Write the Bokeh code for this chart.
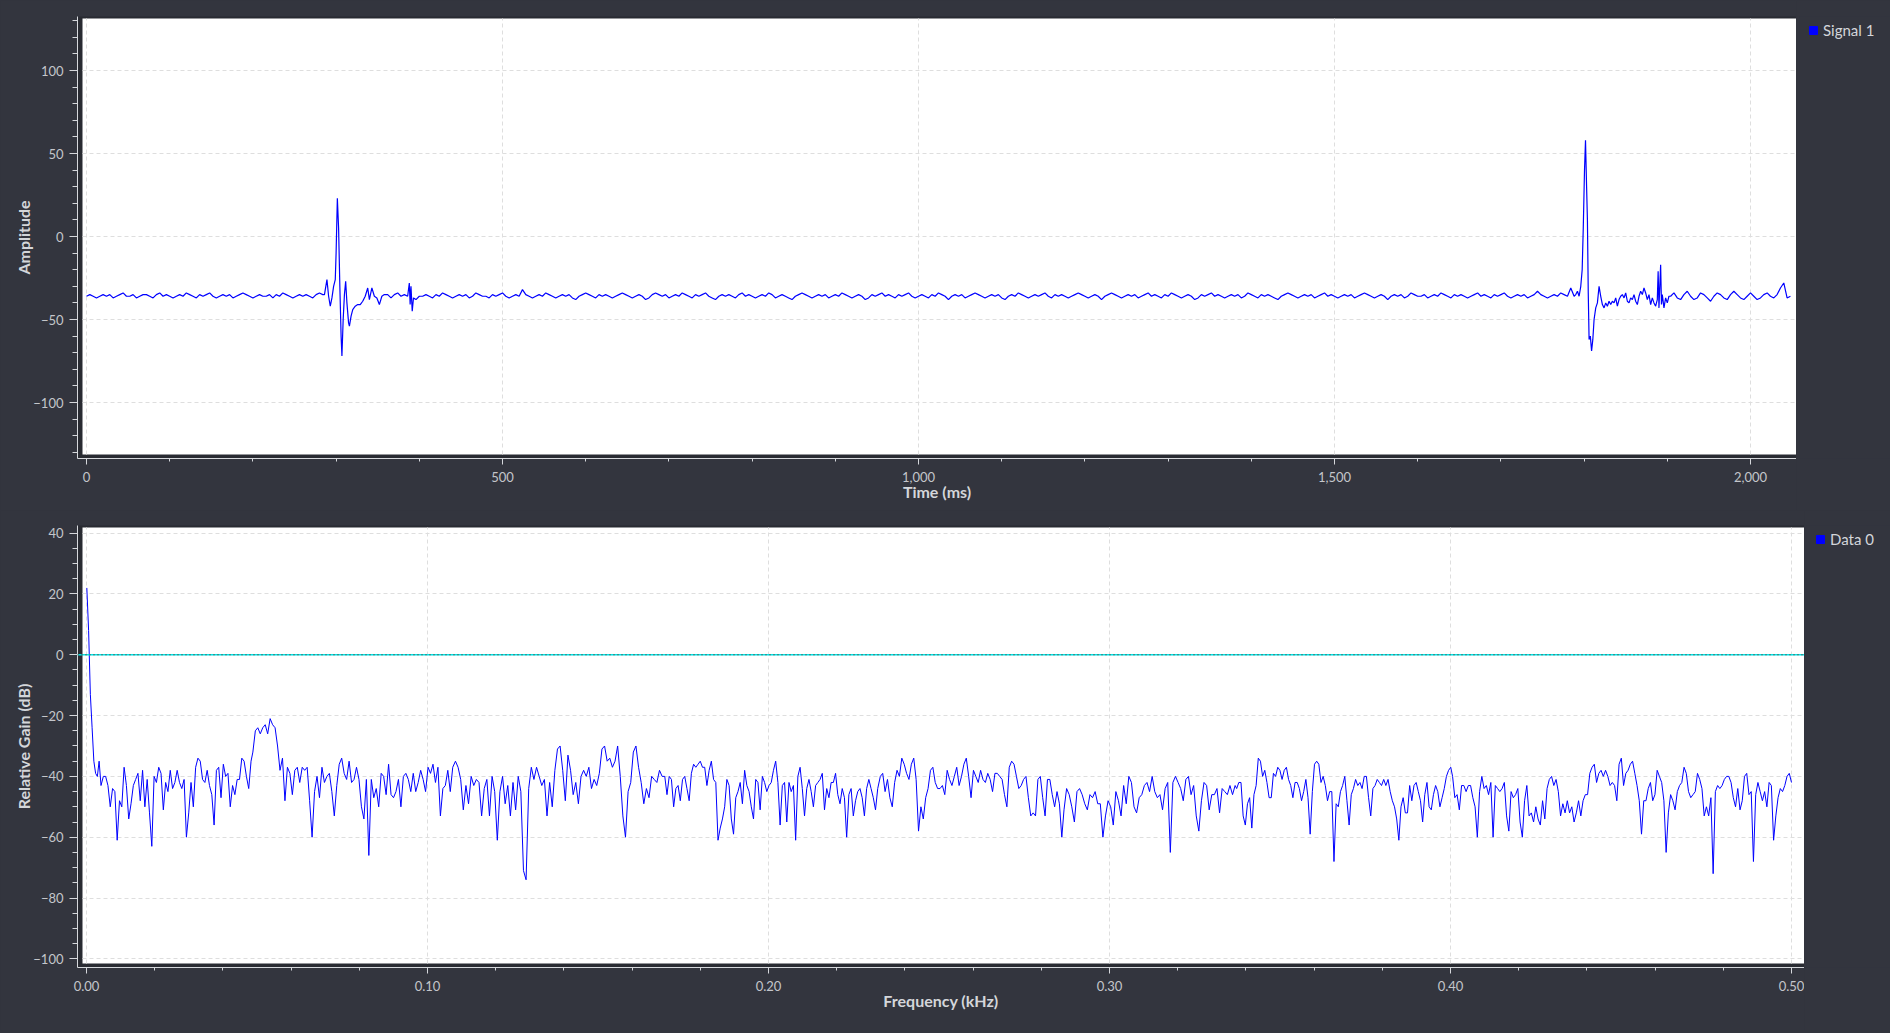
import numpy as np
from bokeh.plotting import figure
from bokeh.models import (Range1d, SingleIntervalTicker, NumeralTickFormatter, BoxAnnotation,
                          Span, Legend, LegendItem, GlobalInlineStyleSheet, Grid)
from bokeh.layouts import column, row
from bokeh.embed import file_html
from bokeh.resources import INLINE

# ---------------- Signal 1 (time domain) ----------------
seg_a_span = (0, 284)
seg_a = [-36,-35,-36,-37,-36,-35,-36,-35,-37,-36,-35,-34,-36,-36,-35,-37,-36,-35,-35,-36,
         -37,-35,-34,-36,-35,-36,-37,-36,-35,-36,-34,-35,-36,-37,-35,-36,-35,-34,-36,-37,
         -36,-35,-36,-35,-37,-36,-35,-34,-35,-36,-37,-36,-35,-36,-36,-35,-37,-35,-36,-34,
         -35,-36,-37,-36,-35,-36,-35,-36,-37,-35,-34,-35]

spike1_t = [286,289,291,293,295,297,299,300,301.5,303,304.5,306,307,308.5,310,311.5,313,315,316,318,
            320,323,326,329,332,335,338,340,343,346,349,352,355,358,362,366,370,374,378,382,
            386,388,389,390,391.5,393,396,400]
spike1_v = [-35,-26,-36,-42,-37,-30,-26,-10,23,5,-30,-60,-72,-50,-35,-27,-40,-52,-54,-48,
            -44,-42,-41,-41,-39,-36,-31,-38,-31,-36,-37,-41,-36,-35,-35,-37,-35,-34,-36,-35,
            -36,-28,-41,-30,-45,-37,-38,-36]

seg_c_span = (404, 1788)
seg_c = [-36,-35,-36,-37,-35,-36,-34,-35,-36,-37,-36,-35,-36,-35,-37,-36,-34,-35,-36,-36,
         -37,-35,-36,-35,-34,-36,-37,-36,-35,-36,-32,-35,-36,-37,-36,-35,-36,-34,-35,-36,
         -37,-36,-35,-36,-35,-37,-38,-36,-35,-34,-35,-36,-37,-35,-36,-35,-36,-37,-36,-35,
         -34,-35,-36,-37,-36,-35,-36,-38,-37,-35,-34,-35,-36,-35,-37,-36,-35,-36,-34,-35,
         -36,-37,-35,-36,-35,-34,-36,-37,-38,-36,-35,-36,-35,-36,-37,-35,-34,-36,-35,-36,
         -37,-36,-35,-36,-34,-35,-37,-36,-35,-36,-37,-38,-36,-35,-34,-35,-36,-37,-36,-35,
         -36,-35,-37,-36,-35,-36,-34,-35,-36,-37,-36,-35,-36,-38,-37,-35,-36,-35,-34,-36,
         -35,-36,-37,-35,-36,-35,-34,-36,-37,-36,-35,-36,-37,-35,-36,-34,-35,-36,-38,-36,
         -35,-36,-35,-37,-36,-35,-34,-35,-36,-37,-36,-35,-36,-35,-37,-38,-36,-35,-36,-34,
         -35,-36,-37,-36,-35,-36,-35,-34,-36,-37,-35,-36,-35,-36,-37,-36,-35,-34,-35,-36,
         -37,-36,-35,-36,-38,-36,-35,-34,-35,-36,-37,-36,-35,-36,-35,-37,-36,-35,-34,-36,
         -35,-36,-37,-35,-36,-34,-35,-36,-37,-36,-35,-36,-38,-37,-35,-36,-35,-34,-36,-35,
         -36,-37,-36,-35,-36,-35,-37,-36,-34,-35,-36,-37,-35,-36,-35,-36,-37,-38,-36,-35,
         -34,-35,-36,-37,-36,-35,-36,-35,-37,-36,-35,-34,-36,-35,-36,-37,-36,-35,-36,-35,
         -37,-36,-35,-34,-35,-36,-37,-36,-35,-36,-38,-36,-35,-36,-35,-37,-36,-34,-35,-36,
         -36,-35,-37,-36,-35,-36,-34,-35,-36,-37,-35,-36,-35,-36,-37,-36,-35,-34,-36,-35,
         -36,-37,-35,-36,-35,-34,-36,-37,-36,-35,-36,-35,-37,-36,-35,-33,-35,-36,-37,-36,
         -35,-36,-34,-35,-36,-31,-36]

spike2_t = [1790,1792,1794,1796,1797.7,1799,1800.5,1801.7,1803,1804,1805,1806,1807.5,1809,1810.5,1812,1814,1816,1818,1820,
            1822,1824,1826,1828,1830,1832,1834,1836,1838,1840,1842,1844,1846,1848,1850,1852,1854,1856,1858,1860,
            1862,1864,1866,1868,1870,1872,1874,1876,1878,1880,1882,1884,1886,1888,1889,1890,1891,1892,1893,1894,
            1896,1898,1900,1902]
spike2_v = [-35,-33,-36,-30,-20,5,40,58,30,10,-34,-62,-60,-69,-62,-50,-43,-40,-30,-36,
            -41,-43,-40,-42,-39,-41,-39,-40,-37,-42,-38,-36,-35,-37,-34,-39,-40,-37,-38,-35,
            -39,-41,-36,-33,-35,-31,-34,-38,-35,-41,-37,-40,-42,-38,-21,-43,-30,-17,-41,-35,
            -43,-37,-40,-36]

seg_e_span = (1904, 2048)
seg_e = [-36,-34,-37,-38,-35,-33,-36,-38,-37,-34,-35,-37,-39,-36,-34,-35,-37,-38,-35,-33,
         -35,-37,-38,-36,-34,-36,-38,-37,-35,-34,-36,-37,-35,-31,-28,-37,-36]

# ---------------- Data 0 (spectrum, dB) ----------------
gain_chunks = [
    ((0.0001, 0.0037), [22, 8, -13, -24, -35, -39, -40, -35]),
    ((0.00426, 0.04825), [-43,-40,-40,-43,-50,-44,-45,-61,-48,-50,-37,-43,-54,-49,-43,-41,-39,-48,-38,-50,
                          -41,-52,-63,-40,-42,-37,-39,-51,-42,-45,-38,-44,-42,-38,-42,-44,-41,-60,-52,-42,
                          -50,-37,-34,-35,-41,-42,-38,-43,-46,-56,-38,-37,-47,-36,-40,-39,-50,-43,-46,-41,
                          -41,-34,-35,-40,-44,-35]),
    ((0.04879, 0.1074), [-32,-25,-24,-26,-24,-23,-26,-21,-23,-24,-30,-38,-34,-48,-37,-39,-46,-38,-37,-42,
                         -37,-38,-37,-48,-60,-45,-40,-47,-37,-42,-40,-39,-45,-53,-43,-36,-34,-39,-41,-35,
                         -42,-41,-37,-41,-50,-54,-41,-66,-41,-47,-44,-50,-39,-40,-46,-36,-46,-47,-45,-41,
                         -50,-40,-39,-41,-45,-39,-45,-42,-38,-41,-45,-37,-39,-36,-42,-37,-53,-44,-43,-38,
                         -45,-37]),
    ((0.1082, 0.1688), [-35,-37,-41,-51,-43,-49,-40,-43,-41,-42,-53,-44,-41,-53,-40,-45,-61,-45,-40,-49,
                        -43,-53,-42,-51,-40,-45,-71,-74,-44,-37,-41,-37,-40,-43,-41,-53,-42,-50,-38,-31,
                        -30,-38,-48,-33,-38,-46,-42,-49,-40,-38,-40,-37,-44,-41,-43,-39,-31,-30,-35,-34,
                        -37,-35,-30,-40,-53,-60,-45,-42,-32,-30,-37,-42,-49,-44,-47,-40,-41,-42,-38,-40]),
    ((0.16958, 0.23203), [-40,-46,-40,-41,-50,-44,-43,-48,-41,-40,-44,-48,-39,-36,-37,-36,-35,-37,-37,-43,
                          -38,-35,-41,-42,-61,-57,-54,-50,-41,-43,-54,-59,-47,-45,-42,-49,-38,-43,-45,-50,
                          -54,-41,-42,-51,-40,-42,-45,-43,-42,-38,-35,-42,-56,-43,-42,-55,-42,-45,-43,-61,
                          -40,-37,-44,-53,-44,-41,-45,-50,-43,-42,-41,-39,-51,-44,-47,-42,-42,-39,-46,-49,
                          -44,-47,-60,-46,-44,-53,-48,-45,-44,-47,-53,-44,-41,-44,-47,-51,-44]),
    ((0.23279, 0.28601), [-40,-39,-45,-41,-47,-50,-42,-38,-40,-34,-36,-39,-41,-36,-34,-41,-58,-50,-54,-47,
                          -44,-38,-37,-42,-44,-44,-43,-46,-38,-41,-43,-40,-37,-43,-40,-36,-34,-40,-47,-38,
                          -40,-42,-38,-41,-42,-39,-41,-45,-39,-39,-40,-41,-46,-50,-37,-35,-36,-40,-44,-43,
                          -41,-40,-47,-53,-52,-53,-41,-40,-47,-53,-41,-41,-46,-50,-45,-49,-60]),
    ((0.28666, 0.33684), [-51,-44,-46,-50,-55,-45,-44,-46,-49,-51,-46,-47,-45,-49,-49,-60,-53,-48,-50,-56,
                          -45,-48,-53,-43,-49,-40,-42,-50,-52,-47,-46,-43,-42,-45,-40,-45,-47,-46,-51,-44,
                          -42,-65,-42,-40,-42,-44,-48,-41,-40,-46,-43,-53,-58,-48,-42,-43,-51,-46,-46,-44,
                          -52,-44,-45,-46,-43,-46,-43]),
    ((0.33729, 0.40007), [-44,-42,-42,-53,-56,-49,-47,-57,-46,-43,-34,-35,-40,-38,-42,-47,-47,-39,-40,-37,
                          -38,-41,-38,-37,-41,-43,-47,-42,-42,-44,-48,-45,-41,-47,-59,-45,-36,-35,-36,-42,
                          -40,-43,-48,-45,-45,-68,-49,-50,-45,-43,-40,-48,-56,-46,-44,-41,-43,-42,-44,-40,
                          -40,-47,-53,-44,-43,-41,-42,-43,-41,-43,-41,-45,-48,-50,-54,-61,-50,-47,-52,-52,
                          -43,-48,-43,-42,-45,-48,-55,-46,-42,-50,-51,-46,-43,-45,-50,-47,-44,-40,-38,-37]),
    ((0.40061, 0.45405), [-40,-47,-46,-51,-43,-43,-45,-43,-43,-47,-50,-60,-45,-40,-44,-43,-46,-42,-60,-43,
                          -44,-45,-44,-42,-53,-58,-45,-47,-46,-44,-55,-60,-48,-43,-53,-52,-55,-50,-54,-56,
                          -48,-54,-44,-41,-40,-43,-41,-45,-53,-49,-52,-48,-52,-50,-55,-52,-48,-53,-48,-46,
                          -46,-39,-37,-36,-42,-39,-38,-40,-38,-40,-43,-42,-43,-48,-36,-34,-43,-39,-38,-36,
                          -35,-39]),
    ((0.4547, 0.5000), [-43,-48,-59,-48,-48,-44,-42,-48,-46,-38,-40,-42,-48,-65,-52,-46,-48,-51,-45,-43,
                        -42,-37,-39,-45,-47,-46,-45,-39,-41,-44,-53,-50,-53,-47,-72,-45,-43,-44,-43,-41,
                        -40,-40,-42,-47,-50,-44,-51,-48,-40,-39,-46,-45,-68,-46,-42,-45,-48,-45,-50,-42,
                        -43,-61,-53,-47,-44,-45,-43,-40,-39,-42]),
]

# ---------------- build series ----------------
sig_t = (list(np.linspace(seg_a_span[0], seg_a_span[1], len(seg_a))) + spike1_t +
         list(np.linspace(seg_c_span[0], seg_c_span[1], len(seg_c))) + spike2_t +
         list(np.linspace(seg_e_span[0], seg_e_span[1], len(seg_e))))
sig_v = seg_a + spike1_v + seg_c + spike2_v + seg_e

freq = []
gain = []
for (f0, f1), g in gain_chunks:
    freq += list(np.linspace(f0, f1, len(g)))
    gain += g

# ---------------- style ----------------
BG = "#33353e"
STRIP = "#292b32"
AXC = "#d6d8dc"
TXT = "#c4c6cb"
LBL = "#d4d6da"
GRID = "#dedede"
FONT = "Lato"
TOTAL_W = 1890


def make_fig(width, height, top_border, bottom_border, xr, yr, white, xtick, ytick,
             xfmt, xlabel, ylabel, y_minor):
    p = figure(width=width, height=height, output_backend="svg", toolbar_location=None,
               x_range=Range1d(*xr), y_range=Range1d(*yr),
               min_border_left=77, min_border_right=0,
               min_border_top=top_border, min_border_bottom=bottom_border)
    p.background_fill_color = STRIP
    p.border_fill_color = BG
    p.outline_line_color = None

    wl, wr, wb, wt = white
    p.add_layout(BoxAnnotation(left=wl, right=wr, bottom=wb, top=wt, fill_color="white",
                               fill_alpha=1.0, line_alpha=0, level="image"))

    xt = SingleIntervalTicker(interval=xtick, num_minor_ticks=5)
    yt = SingleIntervalTicker(interval=ytick, num_minor_ticks=y_minor)
    p.xaxis.ticker = xt
    p.yaxis.ticker = yt
    p.xgrid.ticker = xt
    p.ygrid.ticker = yt
    p.xaxis.formatter = NumeralTickFormatter(format=xfmt)

    for g in (p.xgrid[0], p.ygrid[0]):
        g.grid_line_color = GRID
        g.grid_line_dash = "4 3"
        g.grid_line_width = 1
    if "cross_bounds" in Grid.properties():
        p.xgrid[0].cross_bounds = (wb, wt)
        p.ygrid[0].cross_bounds = (wl, wr)

    for ax in (p.xaxis[0], p.yaxis[0]):
        ax.axis_line_color = AXC
        ax.major_tick_line_color = AXC
        ax.minor_tick_line_color = AXC
        ax.major_tick_in = 0
        ax.minor_tick_in = 0
        ax.major_label_text_color = TXT
        ax.major_label_text_font = FONT
        ax.major_label_text_font_size = "13px"
        ax.axis_label_text_font = FONT
        ax.axis_label_text_font_style = "bold"
        ax.axis_label_text_font_size = "16px"
        ax.axis_label_text_color = LBL
    p.xaxis.major_tick_out = 6
    p.xaxis.minor_tick_out = 3
    p.yaxis.major_tick_out = 8
    p.yaxis.minor_tick_out = 5
    p.xaxis.major_label_standoff = 7
    p.yaxis.major_label_standoff = 6
    p.xaxis.axis_label_standoff = -3
    p.yaxis.axis_label_standoff = -3
    p.xaxis.axis_label = xlabel
    p.yaxis.axis_label = ylabel
    return p


def make_legend_fig(width, height, top_border, left_border, margin, label):
    lf = figure(width=width, height=height, output_backend="svg", toolbar_location=None,
                x_range=Range1d(0, 1), y_range=Range1d(0, 1),
                x_axis_location=None, y_axis_location=None,
                min_border_left=left_border, min_border_right=0, min_border_top=top_border,
                min_border_bottom=0)
    lf.grid.visible = False
    lf.outline_line_color = None
    lf.background_fill_color = BG
    lf.border_fill_color = BG
    # legend proxy: a single NaN point, only its square swatch appears in the legend
    proxy = lf.scatter(x=[np.nan], y=[np.nan], marker="square", size=8,
                       fill_color="#0000ff", line_color="#0000ff")
    legend = Legend(items=[LegendItem(label=label, renderers=[proxy])],
                    location="top_left", glyph_width=20, glyph_height=20, label_standoff=0,
                    label_height=20, padding=0, margin=margin, spacing=0,
                    border_line_alpha=0, background_fill_alpha=0,
                    label_text_color=LBL, label_text_font=FONT, label_text_font_size="15px")
    lf.add_layout(legend, "center")
    return lf


# top: frame px x 77..1796, y 16..458 ; 0ms at px 86, 0.832 px/ms ; 0 at py 236, 1.66 px/unit
p1 = make_fig(width=1796, height=510, top_border=16, bottom_border=52,
              xr=(-10.82, 2055.3), yr=(-133.73, 132.53),
              white=(-4.81, 2055.3, -131.33, 131.33),
              xtick=500, ytick=50, xfmt="0,0", xlabel="Time (ms)", ylabel="Amplitude",
              y_minor=5)
p1.line(sig_t, sig_v, line_color="#0000ff", line_width=1.2)
l1 = make_legend_fig(TOTAL_W - 1796, 510, top_border=16, left_border=3, margin=4,
                     label="Signal 1")

# bottom: frame px x 77..1804, y 525..967
p2 = make_fig(width=1804, height=520, top_border=15, bottom_border=63,
              xr=(-0.002639, 0.50381), yr=(-102.86, 42.53),
              white=(-0.001173, 0.50381, -101.55, 41.875),
              xtick=0.1, ytick=20, xfmt="0.00", xlabel="Frequency (kHz)",
              ylabel="Relative Gain (dB)", y_minor=4)
p2.add_layout(Span(location=0, dimension="width", line_color="#00e6e6", line_width=1.5))
p2.add_layout(Span(location=0, dimension="width", line_color="#8b0000", line_width=1,
                   line_dash="1 3"))
p2.line(freq, gain, line_color="#0000ff", line_width=1)
l2 = make_legend_fig(TOTAL_W - 1804, 520, top_border=15, left_border=2, margin=4,
                     label="Data 0")

layout = column(row(p1, l1, spacing=0), row(p2, l2, spacing=0), spacing=0)
layout.stylesheets = [GlobalInlineStyleSheet(
    css="html, body { margin: 0 !important; padding: 0; background: #33353e; overflow: hidden; }")]

open("out.html", "w").write(file_html(layout, INLINE))
